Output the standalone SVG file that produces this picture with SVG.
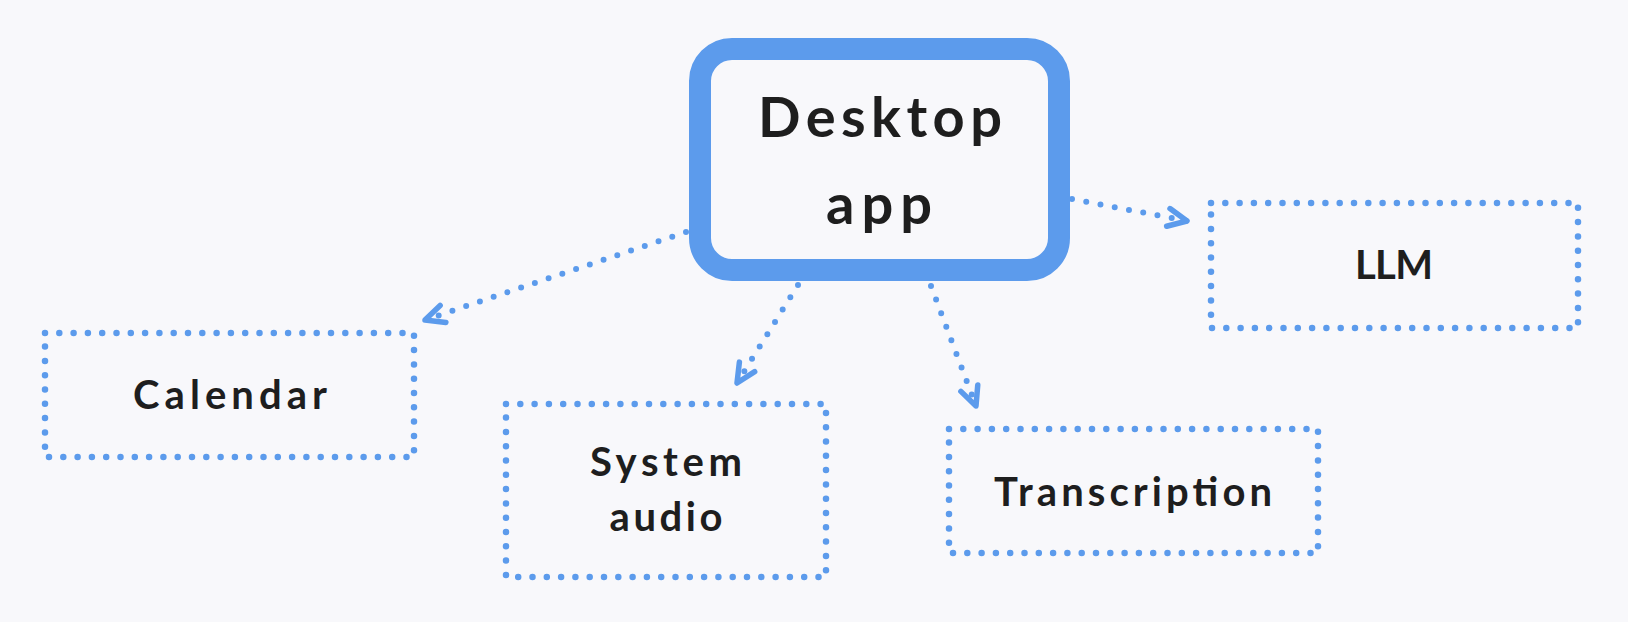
<svg xmlns="http://www.w3.org/2000/svg" width="1628" height="622" viewBox="0 0 1628 622">
<style>
.bg{fill:#f8f8fb}
.main{fill:#f8f8fb;stroke:#5c9bec;stroke-width:22}
.dot{fill:none;stroke:#5c9bec;stroke-width:6.5;stroke-linecap:round;stroke-dasharray:0 14.3}
.conn{fill:none;stroke:#5c9bec;stroke-width:6;stroke-linecap:round;stroke-dasharray:0 14.5}
.lbl{font-family:Lato,"Open Sans",sans-serif;font-weight:700;fill:#1e1e1e;text-anchor:middle}
.s{font-size:40px}
.b{font-size:56px}
</style>
<defs>
<marker id="ah" markerUnits="userSpaceOnUse" viewBox="-24 -14 30 28" markerWidth="30" markerHeight="28" refX="0" refY="0" orient="auto">
<path d="M-19,-9 L0,0 L-19,9" fill="none" stroke="#5c9bec" stroke-width="5.5" stroke-linecap="round" stroke-linejoin="round" stroke-dasharray="none"/>
</marker>
</defs>
<rect class="bg" x="0" y="0" width="1628" height="622"/>
<g id="connectors">
<path class="conn" d="M686,232 L425,320" marker-end="url(#ah)"/>
<path class="conn" d="M798,285 L737,383" marker-end="url(#ah)"/>
<path class="conn" d="M931,286 L976,406" marker-end="url(#ah)"/>
<path class="conn" d="M1072,199 L1187,221" marker-end="url(#ah)"/>
</g>
<g id="desktop">
<rect class="main" x="700" y="49" width="359" height="221" rx="32"/>
<text class="lbl b" x="880" y="137" textLength="244">Desktop</text>
<text class="lbl b" x="879" y="224" textLength="106">app</text>
</g>
<g id="calendar">
<rect class="dot" x="45" y="333" width="369" height="124"/>
<text class="lbl s" x="230" y="409" textLength="194">Calendar</text>
</g>
<g id="system-audio">
<rect class="dot" x="506" y="404" width="320" height="173"/>
<text class="lbl s" x="666" y="476" textLength="152">System</text>
<text class="lbl s" x="666" y="531" textLength="113">audio</text>
</g>
<g id="transcription">
<rect class="dot" x="949" y="429" width="369" height="124"/>
<text class="lbl s" x="1133" y="506" textLength="278">Transcription</text>
</g>
<g id="llm">
<rect class="dot" x="1211" y="203" width="367" height="125"/>
<text class="lbl s" x="1394" y="279" textLength="78">LLM</text>
</g>
</svg>
